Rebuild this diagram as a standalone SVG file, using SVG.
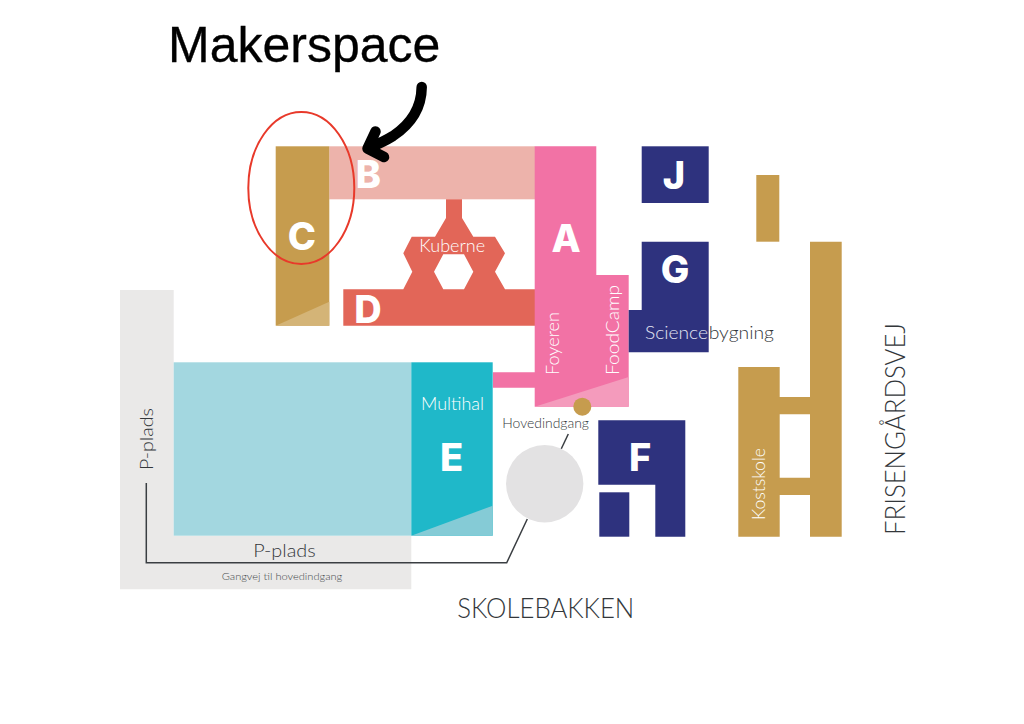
<svg xmlns="http://www.w3.org/2000/svg" width="1024" height="724" viewBox="0 0 1024 724">
<style>
.t{font-family:"Lato","Noto Sans",sans-serif;font-weight:300}
.l{font-family:"Inter","Lato",sans-serif;font-weight:800;font-size:38px;fill:#fff;text-anchor:middle}
.w{fill:#fff}
.d{fill:#33373b}
.gold{fill:#c69c4e}
.navy{fill:#2e327e}
.conn{fill:none;stroke:#3a3e42;stroke-width:1.5}
</style>
<rect width="1024" height="724" fill="#fff"/>
<g id="parking">
<path d="M120 290H173.7V535.7H411.3V589.3H120Z" fill="#eae9e8"/>
<rect x="173.7" y="362.3" width="237.6" height="173.4" fill="#a3d7e0"/>
<text class="t d" transform="translate(153.3 470) rotate(-90)" font-size="18" textLength="62" lengthAdjust="spacingAndGlyphs">P-plads</text>
<text class="t d" x="253.3" y="556.7" font-size="18" textLength="62.4" lengthAdjust="spacingAndGlyphs">P-plads</text>
<text class="t" fill="#45494c" x="221.7" y="580" font-size="10" textLength="120.6" lengthAdjust="spacingAndGlyphs">Gangvej til hovedindgang</text>
</g>
<g id="node-B">
<rect x="329.3" y="146.3" width="205.7" height="53" fill="#edb3ab"/>
<text class="l" x="368.5" y="188">B</text>
</g>
<g id="node-C">
<rect class="gold" x="275.7" y="146.3" width="53.6" height="179.4"/>
<path d="M275.7 325.7L329.3 301.7V325.7Z" fill="#d4b477"/>
<text class="l" x="302" y="249.5">C</text>
</g>
<g id="node-D">
<path fill-rule="evenodd" fill="#e26658" d="M343.3 289.3H403.3L412.3 271.7L403.3 253.3L411.7 236.7H435L446 218V199.3H462V218L473.3 236.7H495L505 253.3L495 271.7L505 289.3H535V325.7H343.3ZM434 271.7L443.3 289.3H464L473.3 271.7L464 254.3H443.3Z"/>
<text class="l" x="368" y="322.5">D</text>
<text class="t w" x="419.3" y="251.7" font-size="17" textLength="65.7" lengthAdjust="spacingAndGlyphs">Kuberne</text>
</g>
<g id="node-A">
<path fill="#f272a5" d="M534.7 146.3H596.3V275H628.7V406.7H534.7V387.7H493V372.3H534.7Z"/>
<path fill="#f49bbc" d="M534.7 406.7L628.7 377V406.7Z"/>
<text class="l" x="566" y="251.7">A</text>
<text class="t w" transform="translate(559 375) rotate(-90)" font-size="18" textLength="63" lengthAdjust="spacingAndGlyphs">Foyeren</text>
<text class="t w" transform="translate(619.3 375) rotate(-90)" font-size="18" textLength="90" lengthAdjust="spacingAndGlyphs">FoodCamp</text>
</g>
<g id="node-J">
<rect class="navy" x="641.7" y="146.3" width="67" height="56.7"/>
<text class="l" x="674" y="189">J</text>
</g>
<g id="node-G">
<path class="navy" d="M641.7 241.7H708.7V352.3H628.7V310H641.7Z"/>
<text class="l" x="675" y="282.7">G</text>
<text class="t" fill="#e2e4f2" x="645" y="339" font-size="18" textLength="63" lengthAdjust="spacingAndGlyphs">Science</text>
<text class="t d" x="708.7" y="339" font-size="18" textLength="65.3" lengthAdjust="spacingAndGlyphs">bygning</text>
</g>
<g id="node-E">
<rect x="411.3" y="362.3" width="81.4" height="173.4" fill="#1fb8c9"/>
<path d="M411.3 535.7L492.7 505.7V535.7Z" fill="#85cbd6"/>
<text class="t w" x="421" y="410" font-size="18" textLength="63" lengthAdjust="spacingAndGlyphs">Multihal</text>
<text class="l" x="451.7" y="470.7">E</text>
</g>
<g id="node-F">
<path class="navy" d="M598.3 420.3H685.3V536.7H655.3V484.7H598.3Z"/>
<rect class="navy" x="599.3" y="492.3" width="30" height="44.4"/>
<text class="l" x="640" y="470.7">F</text>
</g>
<g id="node-K">
<rect class="gold" x="756.3" y="175" width="23" height="66.7"/>
<path class="gold" d="M810 241.7H841.7V536.7H810V495H779.7V536.7H738.3V367H779.7V397H810ZM810 414.3H779.7V477.7H810Z" fill-rule="evenodd"/>
<text class="t w" transform="translate(765 520) rotate(-90)" font-size="17.5" textLength="72" lengthAdjust="spacingAndGlyphs">Kostskole</text>
</g>
<g id="entrance">
<circle cx="582.3" cy="406.7" r="9" fill="#c69c4e"/>
<circle cx="544.7" cy="483.7" r="38.7" fill="#e3e2e3"/>
<text class="t d" x="502.3" y="428.3" font-size="14" textLength="86.7" lengthAdjust="spacingAndGlyphs">Hovedindgang</text>
</g>
<g id="connectors">
<path class="conn" d="M146.3 483V562.7H506.7L527.3 519"/>
<path class="conn" d="M568.3 434L561.3 448.7"/>
</g>
<g id="roads">
<text class="t d" x="457.3" y="617.7" font-size="28" textLength="177" lengthAdjust="spacingAndGlyphs">SKOLEBAKKEN</text>
<text class="t d" transform="translate(905 535) rotate(-90)" font-size="28" textLength="212" lengthAdjust="spacingAndGlyphs">FRISENGÅRDSVEJ</text>
</g>
<g id="callout">
<text x="168" y="62" font-family="'Liberation Sans',Arial,sans-serif" font-size="50" fill="#000" stroke="#000" stroke-width="0.3">Makerspace</text>
<ellipse cx="301.3" cy="188" rx="53" ry="76" fill="none" stroke="#e8392a" stroke-width="2"/>
<path d="M421.7 87C421.5 107 411 124 393 136C385 141 376 145 368 148.3M375.5 131.5L367.5 148.5L384 157" fill="none" stroke="#000" stroke-width="10.5" stroke-linecap="round" stroke-linejoin="round"/>
</g>
</svg>
